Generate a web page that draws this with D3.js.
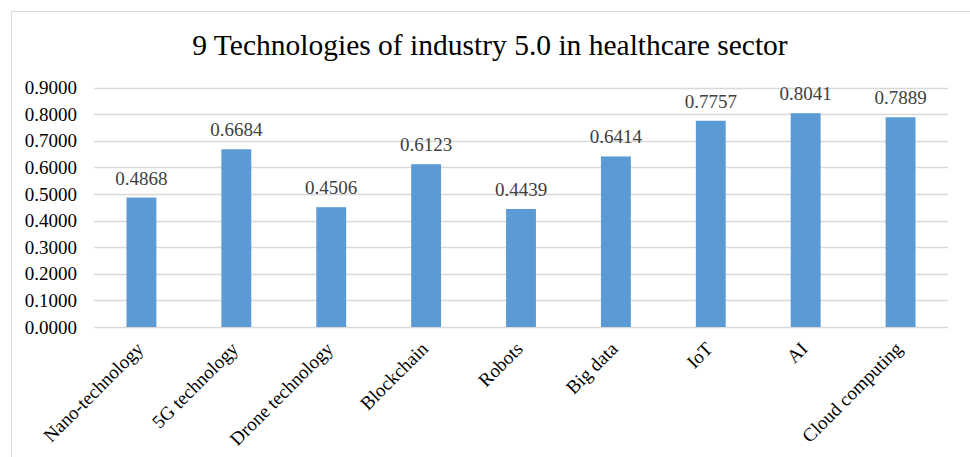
<!DOCTYPE html>
<html>
<head>
<meta charset="utf-8">
<script src="https://cdn.jsdelivr.net/npm/d3@7"></script>
<style>
  html, body { margin: 0; padding: 0; background: #fff; }
  svg { display: block; }
  text { font-family: "Liberation Serif", "Times New Roman", serif; }
</style>
</head>
<body>
<svg id="chart" width="970" height="457"></svg>
<script>
const titleText = "9 Technologies of industry 5.0 in healthcare sector";
const categories = ["Nano-technology", "5G technology", "Drone technology", "Blockchain",
  "Robots", "Big data", "IoT", "AI", "Cloud computing"];
const values = [0.4868, 0.6684, 0.4506, 0.6123, 0.4439, 0.6414, 0.7757, 0.8041, 0.7889];
const yTicks = [0, 0.1, 0.2, 0.3, 0.4, 0.5, 0.6, 0.7, 0.8, 0.9];

const svg = d3.select("#chart");
const W = 970, H = 457;
const plot = { left: 94, right: 948, top: 87.7, bottom: 327 };
const FONT = 19;

// outer chart frame (runs past the right and bottom edges)
svg.append("rect")
  .attr("x", 11.5).attr("y", 11.5)
  .attr("width", W + 20).attr("height", H + 20)
  .attr("fill", "#fff").attr("stroke", "#d9d9d9").attr("stroke-width", 1);

svg.append("text")
  .attr("x", 490).attr("y", 55)
  .attr("text-anchor", "middle")
  .attr("font-size", 29.5).attr("fill", "#000")
  .text(titleText);

const x = d3.scaleBand().domain(categories).range([plot.left, plot.right]).paddingInner(0.685).paddingOuter(0.3425);
const y = d3.scaleLinear().domain([0, 0.9]).range([plot.bottom, plot.top]);

// horizontal gridlines
svg.append("g").selectAll("line").data(yTicks).join("line")
  .attr("x1", plot.left).attr("x2", plot.right)
  .attr("y1", d => Math.round(y(d)) + 0.5).attr("y2", d => Math.round(y(d)) + 0.5)
  .attr("stroke", "#d9d9d9").attr("stroke-width", 1.3);

// y axis labels
const yAxis = d3.axisLeft(y).tickValues(yTicks).tickFormat(d3.format(".4f")).tickSize(0).tickPadding(0);
const yg = svg.append("g").attr("transform", `translate(${plot.left - 17},0)`).call(yAxis);
yg.select(".domain").remove();
yg.selectAll("text").attr("font-family", "Liberation Serif, serif").attr("font-size", FONT).attr("fill", "#000");

// bars
svg.append("g").selectAll("rect").data(values).join("rect")
  .attr("x", (d, i) => x(categories[i]))
  .attr("width", x.bandwidth())
  .attr("y", d => y(d))
  .attr("height", d => y(0) - y(d))
  .attr("fill", "#5b9bd5");

// value labels
svg.append("g").selectAll("text").data(values).join("text")
  .attr("x", (d, i) => x(categories[i]) + x.bandwidth() / 2)
  .attr("y", d => y(d) - 13)
  .attr("text-anchor", "middle")
  .attr("font-size", FONT).attr("fill", "#404040")
  .text(d => d.toFixed(4));

// rotated category labels
const xAxis = d3.axisBottom(x).tickSize(0).tickPadding(0);
const xg = svg.append("g").attr("transform", `translate(0,${plot.bottom})`).call(xAxis);
xg.select(".domain").remove();
xg.selectAll("text")
  .attr("font-family", "Liberation Serif, serif").attr("font-size", FONT).attr("fill", "#000")
  .attr("text-anchor", "end")
  .attr("dy", null).attr("y", null)
  .attr("transform", "translate(3,23) rotate(-45)");
</script>
</body>
</html>
